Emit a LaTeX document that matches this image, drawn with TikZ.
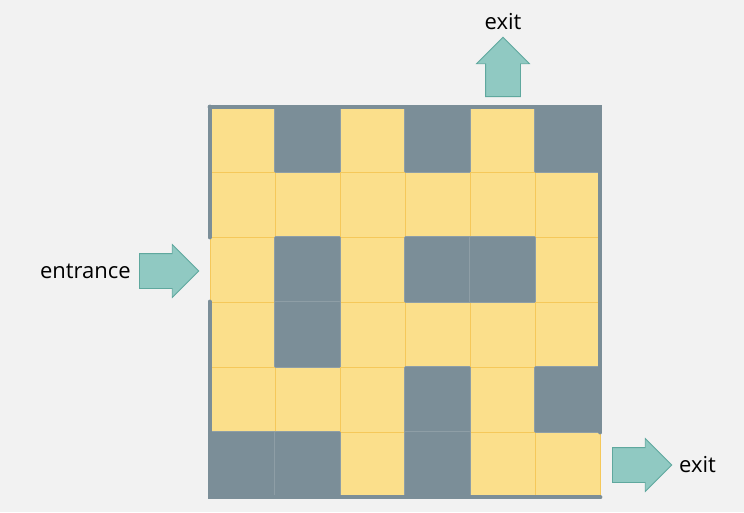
\documentclass[tikz,border=0pt]{standalone}
\usepackage{fontspec}
\setmainfont{Open Sans}
\usetikzlibrary{positioning,shapes.arrows}
\definecolor{bgcolor}{HTML}{F2F2F2}
\definecolor{pathfill}{HTML}{FBDF8B}
\definecolor{pathedge}{HTML}{F5C85A}
\definecolor{wallfill}{HTML}{7B8E98}
\definecolor{walledge}{HTML}{8E9EA6}
\definecolor{arrowfill}{HTML}{90C9C2}
\definecolor{arrowedge}{HTML}{5FA89E}
\tikzset{
	path cell/.style={rectangle,draw=pathedge,fill=pathfill,line width=0.6pt,minimum size=48.75pt,inner sep=0pt},
	wall cell/.style={rectangle,draw=walledge,fill=wallfill,line width=0.4pt,minimum size=49.5pt,inner sep=0pt,rounded corners=0.8pt},
	border/.style={draw=wallfill,line width=3pt,line cap=round},
	marker/.style={single arrow,draw=arrowedge,fill=arrowfill,line width=0.6pt,inner sep=12.75pt,minimum height=44.5pt,single arrow head extend=6.75pt},
	sign/.style={font=\fontsize{16.5}{19}\selectfont,text=black,inner sep=0pt}
	}
\begin{document}
\begin{tikzpicture}[x=0.75pt,y=-0.75pt]
          \fill[bgcolor] (0,0) rectangle (744,512);
          \useasboundingbox (0,0) rectangle (744,512);
          % open cells
          \foreach \r in {0,...,5}
            \foreach \c in {0,...,5}
              \node[path cell] (cell-\r-\c) at (242.5+65*\c,139.5+65*\r) {};
          % walls
          \foreach \r/\c in {0/1,0/3,0/5,2/1,2/3,2/4,3/1,4/3,4/5,5/0,5/1,5/3}
            \node[wall cell] (wall-\r-\c) at (cell-\r-\c) {};
          % outer walls
          \draw[border] (cell-0-0.north west) -- (cell-0-5.north east) -- (cell-4-5.south east);
          \draw[border] (cell-0-0.north west) -- (cell-1-0.south west);
          \draw[border] (cell-3-0.north west) -- (cell-5-0.south west) -- (cell-5-5.south east);

          \node[marker,anchor=tail] (entrance arrow) at (139,271) {};
          \node[marker,shape border rotate=90,anchor=tail] (top arrow) at (503,97) {};
          \node[marker,anchor=tail] (side arrow) at (612,465) {};

          \node[sign,left=6pt of entrance arrow] (entrance label) {entrance};
          \node[sign,above=5pt of top arrow] (top label) {exit};
          \node[sign,right=5pt of side arrow] (side label) {exit};
        \end{tikzpicture}
\end{document}
